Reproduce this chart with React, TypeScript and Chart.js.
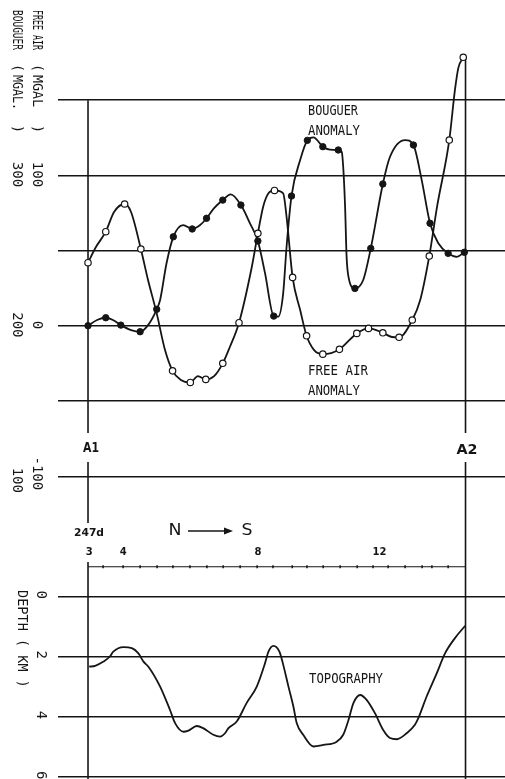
import React, { useEffect, useRef } from 'react';
import { Chart, registerables } from 'chart.js';

Chart.register(...registerables);

const INK = '#151515';
const SANS = '"DejaVu Sans", sans-serif';
const MONO = '"DejaVu Sans Mono", "Liberation Mono", monospace';

// Distance along profile: A1 = 0, A2 = 100
const faDist = [0.0, 2.1, 4.7, 6.9, 9.7, 11.4, 14.0, 15.9, 18.2, 20.4, 22.4, 24.6, 27.1, 29.1, 31.2, 33.4, 35.7, 37.6, 40.0, 43.4, 45.0, 46.4, 47.8, 49.4, 51.7, 52.6, 54.2, 56.2, 57.9, 59.9, 62.2, 64.4, 66.6, 71.2, 74.3, 78.1, 80.5, 82.4, 85.9, 88.0, 90.4, 92.5, 95.7, 97.2, 98.1, 99.4];
const faMgal = [42.0, 52.4, 62.6, 75.7, 81.0, 75.7, 51.1, 30.5, 8.3, -16.1, -29.9, -36.0, -37.6, -33.4, -35.6, -33.4, -24.9, -13.9, 2.1, 39.3, 61.5, 79.2, 88.1, 90.0, 88.1, 72.5, 32.2, 10.5, -6.6, -16.1, -18.8, -18.1, -15.6, -5.0, -1.7, -4.6, -7.4, -7.6, 3.9, 17.2, 46.4, 79.7, 123.5, 156.8, 171.5, 178.5];
const faMarked = [1, 0, 1, 0, 1, 0, 1, 0, 0, 0, 1, 0, 1, 0, 1, 0, 1, 0, 1, 0, 1, 0, 0, 1, 0, 0, 1, 0, 1, 0, 1, 0, 1, 1, 1, 1, 0, 1, 1, 0, 1, 0, 1, 0, 0, 1];

const bgDist = [0.0, 2.4, 4.7, 6.6, 8.7, 11.4, 13.8, 15.9, 18.2, 19.1, 20.8, 22.6, 25.2, 27.6, 29.7, 31.4, 33.4, 35.7, 37.8, 40.5, 42.9, 45.0, 46.9, 49.2, 50.4, 51.7, 52.6, 53.9, 56.2, 58.1, 59.7, 62.2, 64.1, 66.3, 67.2, 67.6, 68.1, 68.5, 69.0, 70.7, 72.9, 74.9, 78.1, 80.0, 84.0, 86.2, 88.4, 90.6, 92.8, 95.4, 97.7, 99.7];
const bgMgal = [200.1, 203.9, 205.4, 203.9, 200.5, 197.2, 196.1, 200.5, 211.0, 217.2, 241.6, 259.2, 267.0, 264.4, 267.0, 271.5, 278.3, 283.6, 287.4, 280.3, 268.2, 256.4, 234.9, 206.5, 206.1, 221.6, 252.6, 286.3, 310.2, 323.3, 325.3, 319.1, 317.2, 316.9, 315.8, 305.8, 279.2, 245.9, 232.6, 224.9, 230.5, 251.5, 294.3, 312.4, 323.5, 320.2, 296.9, 268.2, 254.9, 248.2, 245.9, 248.9];
const bgMarked = [1, 0, 1, 0, 1, 0, 1, 0, 1, 0, 0, 1, 0, 1, 0, 1, 0, 1, 0, 1, 0, 1, 0, 1, 0, 0, 0, 1, 0, 1, 0, 1, 0, 1, 0, 0, 0, 0, 0, 1, 0, 1, 1, 0, 0, 1, 0, 1, 0, 1, 0, 1];

const topoDist = [0.3, 1.9, 4.1, 5.8, 6.7, 9.4, 11.6, 13.3, 14.7, 16.0, 19.1, 21.7, 23.1, 25.3, 26.6, 28.8, 30.5, 33.2, 35.0, 36.3, 37.2, 39.4, 42.0, 44.7, 46.9, 47.8, 49.1, 50.7, 51.6, 53.1, 54.4, 55.3, 57.0, 59.7, 62.3, 65.9, 67.6, 69.0, 70.3, 72.1, 73.8, 76.0, 78.2, 80.0, 81.8, 84.4, 86.6, 87.5, 89.7, 92.4, 94.6, 97.2, 99.9];
const topoDepthKm = [2.33, 2.30, 2.16, 1.99, 1.83, 1.68, 1.71, 1.88, 2.16, 2.33, 2.99, 3.76, 4.21, 4.49, 4.45, 4.30, 4.37, 4.59, 4.65, 4.54, 4.37, 4.15, 3.54, 2.99, 2.21, 1.83, 1.64, 1.83, 2.21, 2.99, 3.65, 4.21, 4.59, 4.98, 4.93, 4.82, 4.59, 4.10, 3.54, 3.27, 3.43, 3.87, 4.43, 4.70, 4.74, 4.54, 4.26, 4.04, 3.32, 2.54, 1.88, 1.38, 0.97];

const faGridValues = [150, 100, 50, 0, -50, -100];
const depthGridValues = [0, 2, 4, 6];
const faTickValues = [100, 0, -100];
const faTickLabels = ['100', '0', '-100'];
const bgTickValues = [300, 200, 100];
const bgTickLabels = ['300', '200', '100'];
const depthTickValues = [0, 2, 4, 6];
const depthTickLabels = ['0', '2', '4', '6'];
const hourLabels = ['3', '4', '8', '12'];
const hourDist = [0.3, 9.3, 45.0, 77.2];
const hourTickDist = [4.0, 9.3, 13.8, 18.3, 22.5, 27.0, 31.5, 35.8, 40.3, 44.8, 49.0, 54.1, 58.0, 62.3, 66.8, 71.3, 75.5, 79.5, 84.0, 88.5, 91.1, 95.4];

type TxtOpts = { size: number; bold?: boolean; width?: number; rot?: boolean; align?: CanvasTextAlign; font?: string };

function txt(ctx: CanvasRenderingContext2D, s: string, x: number, y: number, o: TxtOpts) {
  ctx.save();
  ctx.font = `${o.bold ? 'bold ' : ''}${o.size}px ${o.font || MONO}`;
  ctx.fillStyle = INK;
  ctx.textBaseline = 'middle';
  ctx.textAlign = o.align || 'center';
  ctx.translate(x, y);
  if (o.rot) ctx.rotate(Math.PI / 2);
  if (o.width) {
    const w = ctx.measureText(s).width;
    ctx.scale(o.width / w, 1);
  }
  ctx.fillText(s, 0, 0);
  ctx.restore();
}

const decor = {
  id: 'decor',
  beforeDatasetsDraw(chart: any) {
    const { ctx, scales } = chart;
    const xs = scales.x;
    const yFA = scales.yFA;
    const a1 = xs.getPixelForValue(0);
    const a2 = xs.getPixelForValue(100);
    ctx.save();
    ctx.strokeStyle = INK;
    ctx.lineWidth = 1.6;
    const seg = (px: number, y0: number, y1: number) => {
      ctx.beginPath();
      ctx.moveTo(px, y0);
      ctx.lineTo(px, y1);
      ctx.stroke();
    };
    seg(a1, yFA.getPixelForValue(150), 433);
    seg(a1, 462, 523);
    seg(a1, 562, 779);
    seg(a2, yFA.getPixelForValue(faMgal[faMgal.length - 1]), 433);
    seg(a2, 462, 779);
    // time scale bar
    const barY = 566.7;
    ctx.lineWidth = 1.1;
    ctx.beginPath();
    ctx.moveTo(a1, barY);
    ctx.lineTo(a2, barY);
    ctx.stroke();
    ctx.lineWidth = 1.5;
    for (const d of hourTickDist) {
      const px = xs.getPixelForValue(d);
      ctx.beginPath();
      ctx.moveTo(px, barY - 1.5);
      ctx.lineTo(px, barY + 1.5);
      ctx.stroke();
    }
    ctx.restore();
  },
  afterDraw(chart: any) {
    const { ctx, scales } = chart;
    const xs = scales.x;
    const yFA = scales.yFA;
    const yB = scales.yB;
    const yD = scales.yD;

    // left axis titles (rotated)
    txt(ctx, 'FREE AIR', 37, 10, { size: 14, rot: true, align: 'left', width: 40 });
    txt(ctx, '(', 37, 68, { size: 14, rot: true });
    txt(ctx, 'MGAL', 37, 75, { size: 14, rot: true, align: 'left', width: 32 });
    txt(ctx, ')', 37, 129, { size: 14, rot: true });
    txt(ctx, 'BOUGUER', 17, 10, { size: 14, rot: true, align: 'left', width: 40 });
    txt(ctx, '(', 17, 68, { size: 14, rot: true });
    txt(ctx, 'MGAL.', 17, 75, { size: 14, rot: true, align: 'left', width: 35 });
    txt(ctx, ')', 17, 129, { size: 14, rot: true });

    faTickValues.forEach((v, i) => {
      const off = faTickLabels[i].startsWith('-') ? -3 : -1;
      txt(ctx, faTickLabels[i], 37, yFA.getPixelForValue(v) + off, { size: 14, rot: true });
    });
    bgTickValues.forEach((v, i) => {
      const off = i === 2 ? 4 : -1;
      txt(ctx, bgTickLabels[i], 17, yB.getPixelForValue(v) + off, { size: 14, rot: true });
    });
    depthTickValues.forEach((v, i) => {
      txt(ctx, depthTickLabels[i], 41, yD.getPixelForValue(v) - 2, { size: 14, rot: true });
    });
    txt(ctx, 'DEPTH ( KM )', 22, 590, { size: 14, rot: true, align: 'left', width: 98 });

    // profile end labels
    txt(ctx, 'A1', 91, 448, { size: 14, bold: true, width: 16, font: SANS });
    txt(ctx, 'A2', 467, 450, { size: 14, bold: true, width: 21, font: SANS });

    // time annotation
    txt(ctx, '247d', 89, 533, { size: 10, bold: true, width: 30, font: SANS });
    txt(ctx, 'N', 175, 531, { size: 16, width: 13, font: SANS });
    txt(ctx, 'S', 247, 531, { size: 16, width: 11, font: SANS });
    ctx.save();
    ctx.strokeStyle = INK;
    ctx.fillStyle = INK;
    ctx.lineWidth = 1.3;
    ctx.beginPath();
    ctx.moveTo(188, 531);
    ctx.lineTo(226, 531);
    ctx.stroke();
    ctx.beginPath();
    ctx.moveTo(233, 531);
    ctx.lineTo(224, 527.5);
    ctx.lineTo(224, 534.5);
    ctx.closePath();
    ctx.fill();
    ctx.restore();
    hourLabels.forEach((s, i) => {
      txt(ctx, s, xs.getPixelForValue(hourDist[i]), 552, { size: 10, bold: true, font: SANS });
    });

    // curve labels
    txt(ctx, 'BOUGUER', 308, 111, { size: 14, align: 'left', width: 50 });
    txt(ctx, 'ANOMALY', 308, 131, { size: 14, align: 'left', width: 52 });
    txt(ctx, 'FREE AIR', 308, 371, { size: 14, align: 'left', width: 60 });
    txt(ctx, 'ANOMALY', 308, 391, { size: 14, align: 'left', width: 52 });
    txt(ctx, 'TOPOGRAPHY', 309, 679, { size: 14, align: 'left', width: 74 });
  },
};

export default function App() {
  const ref = useRef<HTMLCanvasElement | null>(null);

  useEffect(() => {
    if (!ref.current) return;
    const gridOpts = { color: INK, lineWidth: 1.6, drawTicks: false };
    const chart = new Chart(ref.current, {
      type: 'scatter',
      data: {
        datasets: [
          {
            label: 'Free air anomaly',
            data: faDist.map((x, i) => ({ x, y: faMgal[i] })),
            yAxisID: 'yFA',
            showLine: true,
            borderColor: INK,
            borderWidth: 1.8,
            cubicInterpolationMode: 'monotone',
            pointRadius: (c: any) => (faMarked[c.dataIndex] ? 3.2 : 0),
            pointHoverRadius: 0,
            pointBackgroundColor: '#ffffff',
            pointBorderColor: INK,
            pointBorderWidth: 1.2,
            clip: false,
          },
          {
            label: 'Bouguer anomaly',
            data: bgDist.map((x, i) => ({ x, y: bgMgal[i] })),
            yAxisID: 'yB',
            showLine: true,
            borderColor: INK,
            borderWidth: 1.8,
            cubicInterpolationMode: 'monotone',
            pointRadius: (c: any) => (bgMarked[c.dataIndex] ? 3.2 : 0),
            pointHoverRadius: 0,
            pointBackgroundColor: INK,
            pointBorderColor: INK,
            pointBorderWidth: 1,
            clip: false,
          },
          {
            label: 'Topography',
            data: topoDist.map((x, i) => ({ x, y: topoDepthKm[i] })),
            yAxisID: 'yD',
            showLine: true,
            borderColor: INK,
            borderWidth: 1.8,
            cubicInterpolationMode: 'monotone',
            pointRadius: 0,
            pointHoverRadius: 0,
            clip: false,
          },
        ],
      } as any,
      options: {
        responsive: false,
        maintainAspectRatio: false,
        devicePixelRatio: 1,
        animation: false,
        events: [],
        layout: { autoPadding: false, padding: { left: 58, right: 0, top: 0, bottom: 0 } },
        plugins: { legend: { display: false }, tooltip: { enabled: false } },
        scales: {
          x: { type: 'linear', min: -7.95, max: 110.46, display: false },
          yFA: {
            type: 'linear',
            position: 'left',
            min: -301.2,
            max: 216.6,
            display: true,
            ticks: { display: false },
            border: { display: false },
            grid: gridOpts,
            afterBuildTicks: (axis: any) => {
              axis.ticks = faGridValues.map((v) => ({ value: v }));
            },
          },
          yB: { type: 'linear', position: 'left', min: -101.2, max: 416.6, display: false },
          yD: {
            type: 'linear',
            position: 'left',
            min: -19.82,
            max: 6.06,
            reverse: true,
            display: true,
            ticks: { display: false },
            border: { display: false },
            grid: gridOpts,
            afterBuildTicks: (axis: any) => {
              axis.ticks = depthGridValues.map((v) => ({ value: v }));
            },
          },
        },
      } as any,
      plugins: [decor],
    });
    return () => chart.destroy();
  }, []);

  return (
    <div style={{ position: 'absolute', left: 0, top: 0, width: 505, height: 779, background: '#fff' }}>
      <canvas ref={ref} width={505} height={779} style={{ display: 'block' }} />
    </div>
  );
}
